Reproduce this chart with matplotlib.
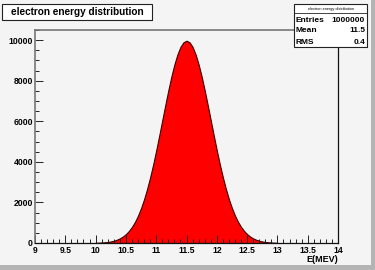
import numpy as np
import matplotlib.pyplot as plt
from matplotlib.patches import Rectangle
from matplotlib.ticker import MultipleLocator

plt.rcParams['font.family'] = ['Liberation Sans', 'DejaVu Sans']
plt.rcParams['font.weight'] = 'bold'

# bin contents (step 0.05 MeV)
energy = [10.0, 10.05, 10.1, 10.15, 10.2, 10.25, 10.3, 10.35, 10.4, 10.45,
          10.5, 10.55, 10.6, 10.65, 10.7, 10.75, 10.8, 10.85, 10.9, 10.95,
          11.0, 11.05, 11.1, 11.15, 11.2, 11.25, 11.3, 11.35, 11.4, 11.45,
          11.5, 11.55, 11.6, 11.65, 11.7, 11.75, 11.8, 11.85, 11.9, 11.95,
          12.0, 12.05, 12.1, 12.15, 12.2, 12.25, 12.3, 12.35, 12.4, 12.45,
          12.5, 12.55, 12.6, 12.65, 12.7, 12.75, 12.8, 12.85, 12.9, 12.95, 13.0]
counts = [9, 14, 22, 34, 51, 76, 111, 160, 227, 318,
          438, 595, 794, 1043, 1350, 1720, 2157, 2664, 3238, 3875,
          4566, 5297, 6049, 6801, 7528, 8204, 8801, 9296, 9666, 9895,
          9973, 9895, 9666, 9296, 8801, 8204, 7528, 6801, 6049, 5297,
          4566, 3875, 3238, 2664, 2157, 1720, 1350, 1043, 794, 595,
          438, 318, 227, 160, 111, 76, 51, 34, 22, 14, 9]

hist_title = "electron energy distribution"
stats_names = ["Entries", "Mean", "RMS"]
stats_values = ["1000000", "11.5", "0.4"]

bg = '#f4f4f4'
fig = plt.figure(figsize=(3.75, 2.7), dpi=100, facecolor=bg)
ax = fig.add_axes([35 / 375, 27 / 270, 303 / 375, 213 / 270], facecolor=bg)

ax.fill_between(energy, counts, color='#ff0000', edgecolor='#3a0000', linewidth=0.8)
ax.set_xlim(9, 14)
ax.set_ylim(0, 10500)

ax.xaxis.set_major_locator(MultipleLocator(0.5))
ax.xaxis.set_minor_locator(MultipleLocator(0.1))
ax.yaxis.set_major_locator(MultipleLocator(2000))
ax.yaxis.set_minor_locator(MultipleLocator(500))
ax.tick_params(which='both', direction='in', labelsize=6.2, width=0.7, color='#222222')
ax.tick_params(which='major', length=6)
ax.tick_params(which='minor', length=3)
ax.tick_params(axis='x', pad=2)
ax.tick_params(axis='y', pad=1.5)
ax.set_xticklabels([f'{v:g}' for v in ax.get_xticks()])
for s in ['left', 'top']:
    ax.spines[s].set_color('#777777')
    ax.spines[s].set_linewidth(1.2)
for s in ['right', 'bottom']:
    ax.spines[s].set_color('#111111')
    ax.spines[s].set_linewidth(0.9)

ax.set_xlabel('E(MEV)', loc='right', fontsize=6.5, labelpad=0, fontweight='bold')

# title box
fig.patches.append(Rectangle((2 / 375, 250 / 270), 150 / 375, 16 / 270,
                             transform=fig.transFigure, facecolor='white',
                             edgecolor='#222222', linewidth=0.8))
fig.patches.append(Rectangle((151.5 / 375, 249 / 270), 1.5 / 375, 16 / 270,
                             transform=fig.transFigure, facecolor='#222222', edgecolor='none'))
fig.text(77 / 375, 258 / 270, hist_title, ha='center', va='center', fontsize=7.2)

# stats box
fig.patches.append(Rectangle((294 / 375, 223 / 270), 73 / 375, 43 / 270,
                             transform=fig.transFigure, facecolor='white',
                             edgecolor='#222222', linewidth=0.8))
fig.patches.append(Rectangle((295 / 375, 222 / 270), 73 / 375, 1.5 / 270,
                             transform=fig.transFigure, facecolor='#222222', edgecolor='none'))
fig.patches.append(Rectangle((366.5 / 375, 222 / 270), 1.5 / 375, 43 / 270,
                             transform=fig.transFigure, facecolor='#222222', edgecolor='none'))
fig.text(330.5 / 375, 261 / 270, hist_title, ha='center', va='center', fontsize=2.8,
         fontweight='normal')
fig.lines.append(plt.Line2D([294 / 375, 367 / 375], [257 / 270, 257 / 270],
                            transform=fig.transFigure, color='#222222', linewidth=0.6))
for i, (n, v) in enumerate(zip(stats_names, stats_values)):
    y = (250 - i * 11) / 270
    fig.text(296 / 375, y, n, ha='left', va='center', fontsize=6)
    fig.text(365 / 375, y, v, ha='right', va='center', fontsize=6)

# canvas bevel at right and bottom
fig.patches.append(Rectangle((371 / 375, 0), 4 / 375, 1, transform=fig.transFigure,
                             facecolor='#b4b4b4', edgecolor='none'))
fig.patches.append(Rectangle((0, 0), 1, 5 / 270, transform=fig.transFigure,
                             facecolor='#b4b4b4', edgecolor='none'))

fig.savefig('out.png', dpi=100, facecolor=bg)
